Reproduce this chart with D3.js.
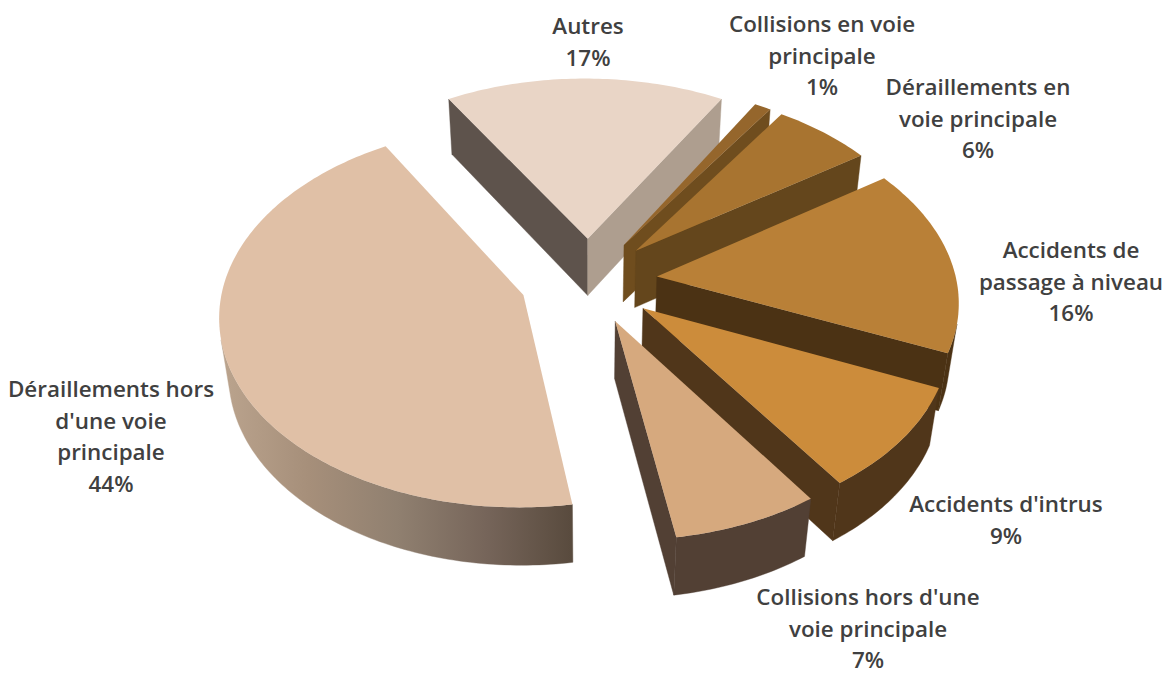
<!DOCTYPE html>
<html lang="fr">
<head>
<meta charset="utf-8">
<title>Répartition des accidents ferroviaires</title>
<script src="https://cdn.jsdelivr.net/npm/d3@7/dist/d3.min.js"></script>
<style>
  html, body { margin: 0; padding: 0; background: #fff; overflow: hidden; }
  svg { display: block; }
  text { font-family: "Open Sans", sans-serif; font-weight: 600; font-size: 22.4px; fill: #404040; }
</style>
</head>
<body>
<svg id="chart" width="1166" height="675"></svg>
<script>
// Category names (one entry per drawn line) and their shares in percent
const categories = [
  ["Autres"],
  ["Collisions en voie", "principale"],
  ["Déraillements en", "voie principale"],
  ["Accidents de", "passage à niveau"],
  ["Accidents d'intrus"],
  ["Collisions hors d'une", "voie principale"],
  ["Déraillements hors", "d'une voie", "principale"]
];
const shares = [17, 1, 6, 16, 9, 7, 44];

// Face colours per slice
const topColors      = ["#e9d5c6", "#95662c", "#a87430", "#b98037", "#cc8c3b", "#d6a97e", "#e0c0a6"];
const startWallFill  = ["#5e534c", "#6f4d1e", "#64461c", "#4b3214", "#50361a", "#524034", "#584a3d"];
const endWallFill    = ["#ae9e8f", "#6f4d1e", "#64461c", "#4b3214", "#50361a", "#524034", "#584a3d"];
const rimFill        = ["#ae9e8f", "#6f4d1e", "#64461c", "#4b3214", "#50361a", "#524034", "url(#rimShade)"];

// Label anchors: horizontal centre and baseline of the first line
const labelX = [588, 822, 978, 1071, 1006, 868, 111];
const labelY = [34, 32, 95, 258, 512, 605, 397];
const lineStep = 31.5;

// Perspective camera looking down on the disc
const view = { cx: 588.5, cy: 280.5, ax: 299.5, ay: 186, shear: 3.5, persp: 0.108, drop: 58.5, dropPersp: 0.026 };
const explode = 0.23;

function project(x, y, z) {
  const w = 1 - view.persp * y + view.dropPersp * z;
  return [
    view.cx + (view.ax * x + view.shear * y) / w,
    view.cy + (view.ay * y + view.drop * z) / w
  ];
}

const svg = d3.select("#chart");

const rim = svg.append("defs").append("linearGradient")
  .attr("id", "rimShade")
  .attr("gradientUnits", "userSpaceOnUse")
  .attr("x1", 220).attr("y1", 0).attr("x2", 574).attr("y2", 0);
[[0, "#bba48e"], [0.25, "#a68f7a"], [0.5, "#908070"], [0.75, "#76655a"], [1, "#584a3d"]]
  .forEach(([offset, color]) => rim.append("stop").attr("offset", offset).attr("stop-color", color));

const pie = d3.pie().sort(null)
  .startAngle(-0.17 * Math.PI)
  .endAngle(-0.17 * Math.PI + 2 * Math.PI);

const line = d3.line();
const closed = pts => line(pts) + "Z";

const slices = pie(shares).map((d, i) => {
  const mid = (d.startAngle + d.endAngle) / 2;
  const ox = explode * Math.sin(mid), oy = -explode * Math.cos(mid);
  const steps = Math.max(2, Math.ceil((d.endAngle - d.startAngle) / (Math.PI / 180)));
  const rimAngles = d3.range(steps + 1).map(k => d.startAngle + (d.endAngle - d.startAngle) * k / steps);
  const plane = rimAngles.map(a => [ox + Math.sin(a), oy - Math.cos(a)]);
  return { i, apex: [ox, oy], plane };
});

// A wall quad is shown only when it faces the camera
const wall = (p, q) => [project(p[0], p[1], 0), project(q[0], q[1], 0), project(q[0], q[1], 1), project(p[0], p[1], 1)];
const facing = quad => d3.polygonArea(quad) > 0;

const layer = svg.append("g");

const drawFace = (g, pts, fill) => g.append("path")
  .attr("d", closed(pts))
  .attr("fill", fill)
  .attr("stroke", fill)
  .attr("stroke-width", 0.4);

slices.forEach(s => {
  const g = layer.append("g");
  const first = s.plane[0], last = s.plane[s.plane.length - 1];

  const startWall = wall(s.apex, first);
  if (facing(startWall)) drawFace(g, startWall, startWallFill[s.i]);

  const endWall = wall(last, s.apex);
  if (facing(endWall)) drawFace(g, endWall, endWallFill[s.i]);

  // Outer rim: keep the run of segments turned towards the camera
  const seen = s.plane.slice(0, -1).map((p, k) => facing(wall(p, s.plane[k + 1])) ? k : -1).filter(k => k >= 0);
  if (seen.length) {
    const run = s.plane.slice(seen[0], seen[seen.length - 1] + 2);
    const outline = run.map(p => project(p[0], p[1], 0))
      .concat(run.slice().reverse().map(p => project(p[0], p[1], 1)));
    drawFace(g, outline, rimFill[s.i]);
  }

  const top = [s.apex, ...s.plane].map(p => project(p[0], p[1], 0));
  g.append("path").attr("d", closed(top)).attr("fill", topColors[s.i]);
});

const labels = svg.append("g").selectAll("text").data(categories).join("text")
  .attr("text-anchor", "middle")
  .attr("transform", (d, i) => `translate(${labelX[i]},${labelY[i]})`);

labels.selectAll("tspan")
  .data((d, i) => [...d, `${shares[i]}%`])
  .join("tspan")
  .attr("x", 0)
  .attr("y", (d, k) => k * lineStep)
  .text(d => d);
</script>
</body>
</html>
